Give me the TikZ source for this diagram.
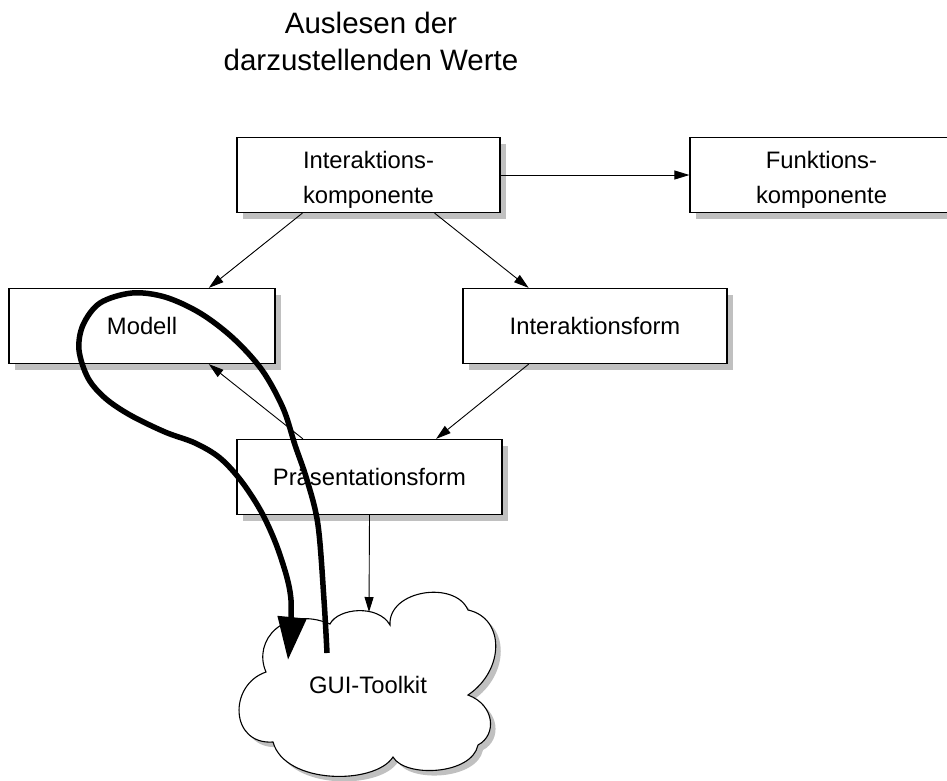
\documentclass[tikz,border=0pt]{standalone}
\usepackage{fontspec}
\setmainfont{Liberation Sans}
\usetikzlibrary{arrows.meta,calc,shadows}
\definecolor{shadowgray}{RGB}{192,192,192}
% outline of the GUI-Toolkit cloud
\newcommand\guicloudoutline{(266,672) .. controls (252,640) and (285,605) .. (330,624)
  .. controls (338,608) and (378,604) .. (390,625)
  .. controls (388,590) and (455,580) .. (468,610)
  .. controls (505,618) and (505,670) .. (468,695)
  .. controls (495,705) and (497,735) .. (478,745)
  .. controls (472,775) and (405,778) .. (393,757)
  .. controls (375,785) and (285,785) .. (273,742)
  .. controls (230,745) and (228,685) .. cycle}
% taller first line, so two-line labels sit a little lower in their boxes
\newcommand\firstline{\rule{0pt}{26.5pt}}
\begin{document}
\begin{tikzpicture}[x=1pt,y=-1pt,
  box/.style={draw=black,line width=1.2pt,fill=white,minimum width=#1,
    minimum height=75pt,inner sep=0pt,align=center,
    font=\fontsize{23.8}{34.5}\selectfont,
    drop shadow={shadow xshift=6pt,shadow yshift=-6pt,fill=shadowgray,opacity=1}},
  flow/.style={line width=0.9pt,-{Triangle[length=15pt,width=9pt]}},
  readout/.style={line width=5.5pt,-{Triangle[length=43pt,width=28pt]}},
  cloudshape/.style={draw=black,line width=1.1pt,fill=white}]
\useasboundingbox (0,0) rectangle (947,780);

% heading
\node[font=\fontsize{29.5}{37}\selectfont,align=center] (title) at (371,41)
  {Auslesen der\\darzustellenden Werte};

% components
\node[box=263pt] (ik)  at (368.5,175) {\firstline Interaktions-\\komponente};
\node[box=263pt] (fk)  at (821.5,175) {\firstline Funktions-\\komponente};
\node[box=266pt] (mod) at (142,326)   {Modell};
\node[box=264pt] (ifo) at (595,326)   {Interaktionsform};
\node[box=265pt] (pf)  at (369.5,477) {Präsentationsform};

% cloud with its shadow
\fill[shadowgray,shift={(5,5)}] \guicloudoutline;
\path[cloudshape] \guicloudoutline;
\node[font=\fontsize{23.8}{28}\selectfont] (gui) at (368,685) {GUI-Toolkit};
\coordinate (cloudtop) at (369,612);

% relations
\draw[flow] (ik.east) -- (fk.west);
\draw[flow] ($(ik.south west)!0.25!(ik.south east)$) -- ($(mod.north west)!0.75!(mod.north east)$);
\draw[flow] ($(ik.south west)!0.75!(ik.south east)$) -- ($(ifo.north west)!0.25!(ifo.north east)$);
\draw[flow] ($(ifo.south west)!0.25!(ifo.south east)$) -- ($(pf.north west)!0.75!(pf.north east)$);
\draw[flow] ($(pf.north west)!0.25!(pf.north east)$) -- ($(mod.south west)!0.75!(mod.south east)$);
\draw[flow] ($(pf.south west)!0.5!(pf.south east)$) -- (cloudtop);

% read-out loop: from the toolkit up to the model and back
\coordinate (loopstart) at (327,653);
\coordinate (looptip) at (288,660);
\draw[readout] plot[smooth,tension=0.55] coordinates {(loopstart) (324,600) (318,525)
  (307,480) (295,445) (283,408) (262,370) (233,338) (200,313) (165,297) (132,293)
  (100,303) (83,325) (79,350) (88,378) (105,398) (130,415) (165,432) (195,443)
  (220,458) (242,482) (263,515) (280,555) (291,600) (looptip)};
\end{tikzpicture}
\end{document}
